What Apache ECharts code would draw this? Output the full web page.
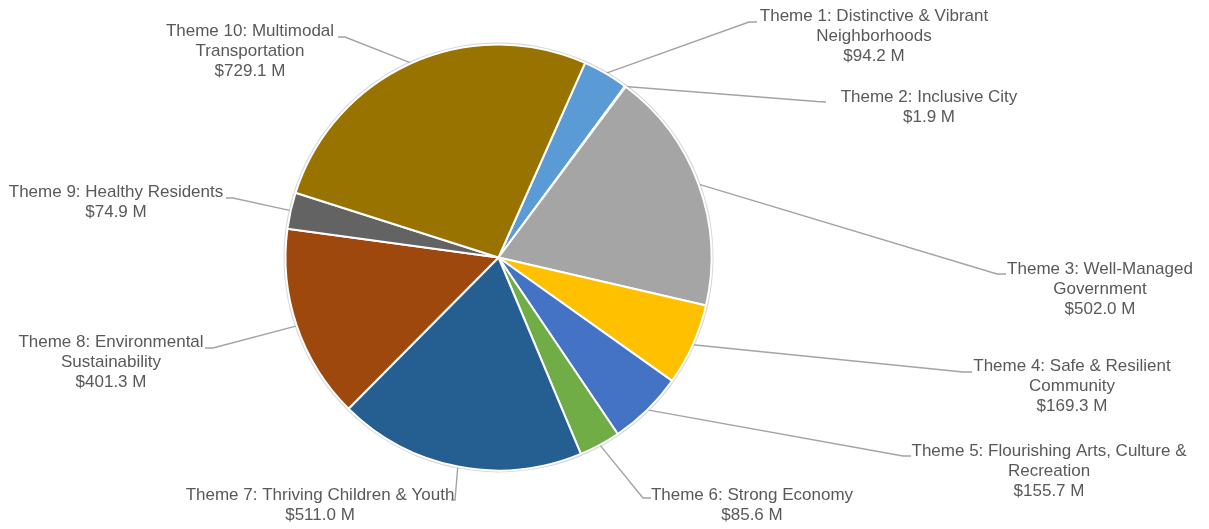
<!DOCTYPE html>
<html>
<head>
<meta charset="utf-8">
<script src="https://cdn.jsdelivr.net/npm/echarts@6/dist/echarts.min.js"></script>
<style>
html,body{margin:0;padding:0;background:#fff;}
#chart{width:1209px;height:529px;}
</style>
</head>
<body>
<div id="chart"></div>
<script>
// ---- data ----
const categories = [
  'Theme 1: Distinctive & Vibrant\nNeighborhoods',
  'Theme 2: Inclusive City',
  'Theme 3: Well-Managed\nGovernment',
  'Theme 4: Safe & Resilient\nCommunity',
  'Theme 5: Flourishing Arts, Culture &\nRecreation',
  'Theme 6: Strong Economy',
  'Theme 7: Thriving Children & Youth',
  'Theme 8: Environmental\nSustainability',
  'Theme 9: Healthy Residents',
  'Theme 10: Multimodal\nTransportation'
];
const values = [94.2, 1.9, 502.0, 169.3, 155.7, 85.6, 511.0, 401.3, 74.9, 729.1];
const colors = ['#5B9BD5', '#ED7D31', '#A5A5A5', '#FFC000', '#4472C4',
                '#70AD47', '#255E91', '#9E480E', '#636363', '#997300'];

// ---- label placement (center x, first-line center y, bend point, end point) ----
const labelPos = [
  {cx: 874,  y1: 16,  b: [749, 22],  e: [757, 22]},
  {cx: 929,  y1: 97,  b: [817, 101.5], e: [826, 102]},
  {cx: 1100, y1: 269, b: [997, 274], e: [1006, 274]},
  {cx: 1072, y1: 366, b: [963, 372], e: [972, 372]},
  {cx: 1049, y1: 451, b: [903, 456], e: [911, 456]},
  {cx: 752,  y1: 495, b: [643, 498], e: [651, 498]},
  {cx: 320,  y1: 495, b: [455, 500], e: [451, 500]},
  {cx: 111,  y1: 342, b: [213, 348], e: [205, 348]},
  {cx: 116,  y1: 192, b: [233, 198], e: [226, 198]},
  {cx: 250,  y1: 31,  b: [345, 37],  e: [338, 37]}
];
const LINE_H = 20;

const chart = echarts.init(document.getElementById('chart'), null, {renderer: 'canvas'});

const pieData = categories.map((c, i) => ({
  name: c,
  value: values[i],
  itemStyle: {color: colors[i]}
}));

chart.setOption({
  animation: false,
  backgroundColor: '#ffffff',
  series: [
    {
      type: 'pie',
      silent: true,
      center: [498.5, 257.5],
      radius: 215,
      z: 1,
      label: {show: false},
      labelLine: {show: false},
      itemStyle: {color: '#d6d6d6', borderWidth: 0},
      data: [{value: 1, name: ''}]
    },
    {
      type: 'pie',
      z: 2,
      center: [498.5, 257.5],
      radius: 213,
      startAngle: 66,
      clockwise: true,
      avoidLabelOverlap: false,
      itemStyle: {borderColor: '#ffffff', borderWidth: 2},
      label: {
        show: true,
        position: 'outside',
        formatter: p => p.name + '\n$' + p.value.toFixed(1) + ' M',
        fontFamily: "'Liberation Sans', Arial, sans-serif",
        fontSize: 17,
        lineHeight: LINE_H,
        color: '#595959',
        align: 'center'
      },
      labelLine: {
        show: true,
        length: 10,
        length2: 10,
        smooth: false,
        lineStyle: {color: '#a3a3a3', width: 1.4}
      },
      labelLayout: function (params) {
        const lp = labelPos[params.dataIndex];
        const pts = params.labelLinePoints;
        const start = pts && pts[0] ? pts[0] : lp.b;
        return {
          x: lp.cx,
          y: lp.y1 - LINE_H / 2,
          align: 'center',
          verticalAlign: 'top',
          labelLinePoints: [start, lp.b, lp.e]
        };
      },
      emphasis: {disabled: true},
      data: pieData
    }
  ]
});
</script>
</body>
</html>
